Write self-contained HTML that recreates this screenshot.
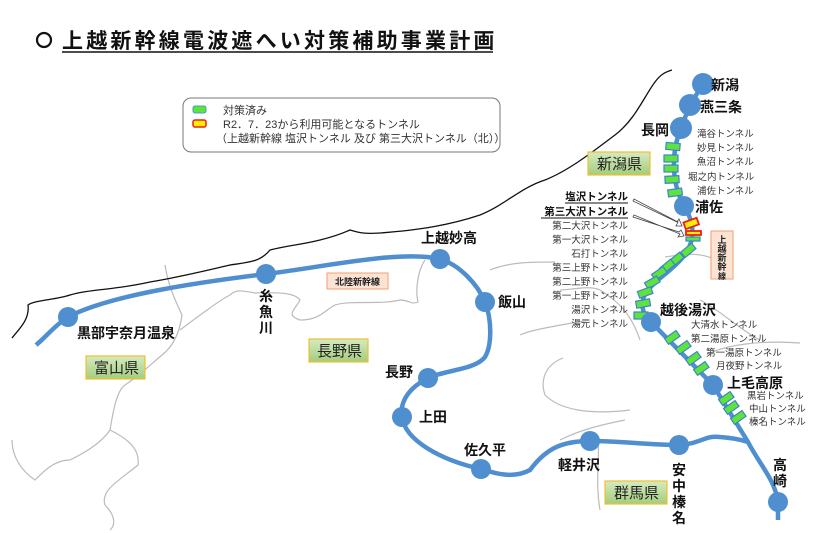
<!DOCTYPE html>
<html><head><meta charset="utf-8"><style>
body{margin:0;background:#fff;}
svg{display:block;font-family:"Liberation Sans","Noto Sans CJK JP",sans-serif;}
.b{font-weight:bold;font-size:14px;fill:#111;}
.t{font-size:10px;fill:#333;}
</style></head><body>
<svg width="820" height="533" viewBox="0 0 820 533">
<defs>
<linearGradient id="g" x1="0" y1="0" x2="0" y2="1"><stop offset="0" stop-color="#d6ebc0"/><stop offset="1" stop-color="#a3cd7e"/></linearGradient>
</defs>
<circle cx="44" cy="40" r="7" fill="none" stroke="#111" stroke-width="2.2"/>
<text x="62" y="48" font-size="21" font-weight="bold" fill="#111" letter-spacing="3.2">上越新幹線電波遮へい対策補助事業計画</text>
<line x1="62" y1="52" x2="493" y2="52" stroke="#111" stroke-width="1.5"/>
<rect x="183" y="98" width="317" height="54" rx="8" fill="#fff" stroke="#777" stroke-width="1"/>
<rect x="193" y="106" width="13" height="7" rx="2" fill="#5de33c" stroke="#4aa0c0" stroke-width="1"/>
<rect x="193" y="120" width="13" height="7" rx="2" fill="#ffee00" stroke="#e8201a" stroke-width="1.5"/>
<text x="223" y="114" class="t" style="font-size:11px">対策済み</text>
<text x="223" y="128" class="t" style="font-size:11px">R2．7．23から利用可能となるトンネル</text>
<text x="216" y="142" class="t" style="font-size:11px">（上越新幹線 塩沢トンネル 及び 第三大沢トンネル（北））</text>
<g fill="none" stroke="#bbb" stroke-width="1.2">
<path d="M165,265 C168,285 175,300 182,315 C180,330 175,345 162,355 C150,365 140,375 125,385 C115,392 112,420 110,430 C100,445 80,455 70,460 C55,460 45,470 35,480 C20,470 12,455 12,440"/>
<path d="M110,430 C130,440 140,450 138,465 C120,480 100,490 105,505 C115,515 116,525 110,530"/>
<path d="M180,330 C200,315 220,300 230,295 C235,290 240,290 255,293 C280,292 295,293 300,300 C295,310 285,315 300,320 C320,320 325,310 335,305 C350,300 380,305 400,300 C410,300 410,305 418,302 C415,290 418,270 425,260"/>
<path d="M490,270 C510,262 530,262 555,262"/>
<path d="M590,320 C560,325 530,330 520,335"/>
<path d="M563,358 C545,365 540,380 545,395 C560,410 590,415 630,410"/>
<path d="M560,290 C570,290 590,285 600,290 C615,300 630,310 640,340"/>
<path d="M700,300 C720,310 740,330 760,340"/>
<path d="M712,352 C730,345 760,340 800,343"/>
<path d="M625,420 C600,425 580,430 560,440"/>
<path d="M598,440 C600,460 595,480 600,510"/>
<path d="M665,257 C680,255 700,250 720,262"/>
</g>
<path d="M12,338 C18,330 30,320 28,305 C35,300 55,300 70,295 C90,289 115,290 150,282 C180,277 200,272 230,265 C250,262 260,262 270,250 C290,245 300,245 320,240 C340,235 345,232 350,230 C360,233 365,234 380,233 C420,230 450,225 480,215 C505,205 520,188 545,180 C570,170 595,150 615,135 C635,120 645,95 655,82 C660,75 665,72 672,70" fill="none" stroke="#111" stroke-width="1.3"/>
<path d="M36,345 C45,338 55,325 68,317 C110,295 200,282 266,274 C330,266 400,250 440,259 C460,265 478,285 485,302 C492,320 492,345 485,357 C475,370 445,370 428,378 C405,390 400,405 402,417 C405,440 440,460 481,469 C500,475 515,478 530,470 C545,450 560,441 590,441 C620,441 650,445 679,445 C700,444 705,435 720,437 C735,438 742,440 748,442" fill="none" stroke="#4f8fd0" stroke-width="4.5"/>
<path d="M703,84 L690,105 L681,128 C672,150 670,180 684,206 C690,215 694,228 692,238 C688,262 660,275 648,290 C640,300 640,312 651,322 L713,385 L748,442 C760,465 775,480 778,502 L778,520" fill="none" stroke="#4f8fd0" stroke-width="4.5"/>
<g fill="#5de33c" stroke="#3a86c8" stroke-width="1.2">
<rect x="666" y="143" width="14" height="7" transform="rotate(5 673 146)"/>
<rect x="664" y="155" width="14" height="7"/>
<rect x="664" y="165" width="14" height="7"/>
<rect x="665" y="176" width="14" height="7" transform="rotate(-3 672 179)"/>
<rect x="668" y="189" width="14" height="7" transform="rotate(-8 675 192)"/>
<rect x="686" y="237" width="14" height="4"/>
<rect x="681" y="247" width="14" height="7" transform="rotate(-40 688 250)"/>
<rect x="669" y="256" width="14" height="7" transform="rotate(-40 676 259)"/>
<rect x="660" y="263" width="14" height="7" transform="rotate(-40 667 266)"/>
<rect x="652" y="270" width="14" height="7" transform="rotate(-35 659 273)"/>
<rect x="645" y="279" width="14" height="7" transform="rotate(-30 652 282)"/>
<rect x="638" y="289" width="14" height="7" transform="rotate(-20 645 292)"/>
<rect x="636" y="300" width="14" height="7" transform="rotate(-10 643 303)"/>
<rect x="634" y="312" width="14" height="7"/>
<rect x="665" y="334" width="14" height="7" transform="rotate(-35 672 337)"/>
<rect x="676" y="344" width="14" height="7" transform="rotate(-35 683 347)"/>
<rect x="686" y="355" width="14" height="7" transform="rotate(-35 693 358)"/>
<rect x="694" y="365" width="14" height="7" transform="rotate(-35 701 368)"/>
<rect x="719" y="395" width="14" height="7" transform="rotate(-35 726 398)"/>
<rect x="724" y="404" width="14" height="7" transform="rotate(-35 731 407)"/>
<rect x="731" y="414" width="14" height="7" transform="rotate(-35 738 417)"/>
</g>
<g fill="#ffee00" stroke="#e8201a" stroke-width="1.8">
<rect x="684" y="220" width="14" height="7" transform="rotate(-20 691 223)"/>
<rect x="686" y="231" width="15" height="4"/>
</g>
<g fill="#fff" stroke="#444" stroke-width="0.8">
<path d="M634,199 L678,222 L676,226 L682,226 L679,219 L677,222 L633,201 Z"/>
<path d="M634,215 L680,234 L678,237 L684,236 L681,230 L679,232 L633,217 Z"/>
</g>
<g fill="#4f8fd0">
<circle cx="68" cy="317" r="10"/><circle cx="266" cy="274" r="10"/><circle cx="440" cy="259" r="10"/>
<circle cx="485" cy="302" r="10"/><circle cx="428" cy="378" r="10"/><circle cx="402" cy="417" r="10"/>
<circle cx="481" cy="469" r="10"/><circle cx="590" cy="441" r="10"/><circle cx="679" cy="445" r="10"/>
<circle cx="778" cy="502" r="10"/><circle cx="703" cy="84" r="11"/><circle cx="690" cy="105" r="11"/>
<circle cx="681" cy="128" r="11"/><circle cx="684" cy="206" r="10"/><circle cx="651" cy="322" r="10"/>
<circle cx="713" cy="385" r="10"/>
</g>
<text class="b" x="77" y="338">黒部宇奈月温泉</text>
<g class="b" text-anchor="middle"><text x="266" y="301">糸</text><text x="266" y="317">魚</text><text x="266" y="333">川</text></g>
<text class="b" x="421" y="243">上越妙高</text>
<text class="b" x="498" y="307">飯山</text>
<text class="b" x="385" y="377">長野</text>
<text class="b" x="419" y="422">上田</text>
<text class="b" x="464" y="455">佐久平</text>
<text class="b" x="558" y="470">軽井沢</text>
<g class="b" text-anchor="middle"><text x="679" y="475">安</text><text x="679" y="491">中</text><text x="679" y="507">榛</text><text x="679" y="523">名</text></g>
<g class="b" text-anchor="middle"><text x="780" y="470">高</text><text x="780" y="486">崎</text></g>
<text class="b" x="711" y="90">新潟</text>
<text class="b" x="700" y="112">燕三条</text>
<text class="b" x="641" y="135">長岡</text>
<text class="b" x="695" y="212">浦佐</text>
<text class="b" x="660" y="315">越後湯沢</text>
<text class="b" x="727" y="388">上毛高原</text>
<g class="t" style="font-size:9.5px">
<text x="697" y="137">滝谷トンネル</text><text x="697" y="151">妙見トンネル</text><text x="697" y="165">魚沼トンネル</text>
<text x="688" y="180">堀之内トンネル</text><text x="697" y="194">浦佐トンネル</text>
</g>
<g text-anchor="end" style="font-weight:bold;font-size:10.5px;fill:#111"><text x="628" y="200">塩沢トンネル</text><text x="628" y="215">第三大沢トンネル</text></g>
<line x1="565" y1="203" x2="628" y2="203" stroke="#111"/><line x1="541" y1="218" x2="628" y2="218" stroke="#111"/>
<g class="t" style="font-size:9.5px" text-anchor="end">
<text x="628" y="229">第二大沢トンネル</text><text x="628" y="243">第一大沢トンネル</text><text x="628" y="257">石打トンネル</text>
<text x="628" y="271">第三上野トンネル</text><text x="628" y="285">第二上野トンネル</text><text x="628" y="299">第一上野トンネル</text>
<text x="628" y="313">湯沢トンネル</text><text x="628" y="327">湯元トンネル</text>
</g>
<g class="t" style="font-size:9.5px">
<text x="691" y="328">大清水トンネル</text><text x="691" y="342">第二湯原トンネル</text><text x="706" y="356">第一湯原トンネル</text>
<text x="716" y="369">月夜野トンネル</text><text x="747" y="399">黒岩トンネル</text><text x="749" y="412">中山トンネル</text><text x="749" y="425">榛名トンネル</text>
</g>
<g stroke="#f0c030" stroke-width="1.2" fill="url(#g)">
<rect x="588" y="152" width="62" height="23"/><rect x="86" y="356" width="59" height="23"/>
<rect x="309" y="339" width="59" height="23"/><rect x="605" y="481" width="62" height="23"/>
</g>
<g font-size="15" fill="#222"><text x="597" y="169">新潟県</text><text x="94" y="373">富山県</text><text x="317" y="356">長野県</text><text x="614" y="498">群馬県</text></g>
<rect x="327" y="273" width="61" height="16" fill="#fde3d3" stroke="#f0a070"/>
<text x="335" y="285" font-size="9" font-weight="bold" fill="#222">北陸新幹線</text>
<rect x="711" y="231" width="22" height="48" fill="#fde3d3" stroke="#f0a070"/>
<g font-size="9" font-weight="bold" fill="#222" text-anchor="middle"><text x="722" y="243">上</text><text x="722" y="252">越</text><text x="722" y="261">新</text><text x="722" y="270">幹</text><text x="722" y="279" font-size="8">線</text></g>
</svg>
</body></html>
